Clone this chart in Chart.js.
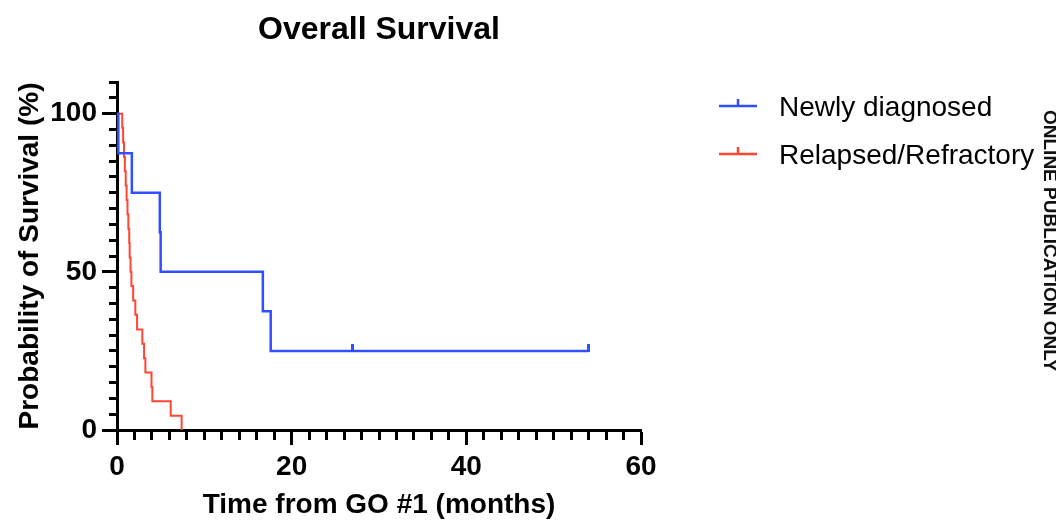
<!DOCTYPE html>
<html>
<head>
<meta charset="utf-8">
<script src="https://cdn.jsdelivr.net/npm/chart.js@4.4.1/dist/chart.umd.min.js"></script>
<style>
  html, body { margin: 0; padding: 0; background: #fff; }
</style>
</head>
<body>
<canvas id="km" width="1056" height="527"></canvas>
<script>
// Kaplan-Meier steps (time in months, survival in %)
var newlyTimes = [0, 0.15, 1.7, 4.9, 5.0, 16.7, 17.6, 54.0];
var newlySurv  = [100, 87.5, 75, 62.5, 50, 37.5, 25, 25];
var newlyCensorTimes = [27.0, 54.0];
var newlyCensorSurv  = [25, 25];

var relapsedTimes = [0, 0.6, 0.7, 0.8, 0.9, 1.0, 1.1, 1.2, 1.3, 1.4, 1.45, 1.55, 1.65, 1.85,
                     2.1, 2.3, 2.9, 3.1, 3.25, 3.95, 4.05, 6.15, 7.4];
var relapsedSurv  = [100, 95.5, 90.9, 86.4, 81.8, 77.3, 72.7, 68.2, 63.6, 59.1, 54.5, 50, 45.5, 40.9,
                     36.4, 31.8, 27.3, 22.7, 18.2, 13.6, 9.1, 4.5, 0];

var seriesLabels = ['Newly diagnosed', 'Relapsed/Refractory'];
var xTickLabels = [0, 20, 40, 60];
var yTickLabels = [0, 50, 100];

var blue = '#3050ff';
var red = '#ff4632';
var font = "'Liberation Sans', Arial, Helvetica, sans-serif";

function pts(xs, ys) {
  return xs.map(function(x, i) { return {x: x, y: ys[i]}; });
}

// small upward tick used for censored observations
function censorMark(color) {
  var c = document.createElement('canvas');
  c.width = 3; c.height = 16;
  var g = c.getContext('2d');
  g.fillStyle = color;
  g.fillRect(0, 1, 3, 8);
  return c;
}

var kmLegend = {
  id: 'kmLegend',
  afterDraw: function(chart) {
    var ctx = chart.ctx;
    var rows = [106, 154];
    ctx.save();
    [0, 1].forEach(function(i) {
      var ds = chart.data.datasets[i];
      var y = rows[i];
      ctx.strokeStyle = ds.borderColor;
      ctx.lineWidth = 2.5;
      ctx.beginPath();
      ctx.moveTo(719, y); ctx.lineTo(757, y);
      ctx.moveTo(738, y); ctx.lineTo(738, y - 7);
      ctx.stroke();
      ctx.fillStyle = '#000';
      ctx.font = '28px ' + font;
      ctx.textBaseline = 'alphabetic';
      ctx.fillText(ds.label, 779, y + 10);
    });
    // cropped side banner
    ctx.translate(1044, 110);
    ctx.rotate(Math.PI / 2);
    ctx.font = 'bold 19px ' + font;
    ctx.fillStyle = '#111';
    ctx.fillText('ONLINE PUBLICATION ONLY', 0, 0);
    ctx.restore();
  }
};

new Chart(document.getElementById('km'), {
  type: 'line',
  data: {
    datasets: [
      {label: seriesLabels[0], data: pts(newlyTimes, newlySurv), borderColor: blue, borderWidth: 2.5,
       stepped: 'before', pointRadius: 0, fill: false},
      {label: seriesLabels[1], data: pts(relapsedTimes, relapsedSurv), borderColor: red, borderWidth: 2,
       stepped: 'before', pointRadius: 0, fill: false},
      {label: 'censored', data: pts(newlyCensorTimes, newlyCensorSurv), showLine: false,
       pointStyle: censorMark(blue), pointRadius: 4, borderColor: blue, backgroundColor: blue}
    ]
  },
  options: {
    responsive: false,
    animation: false,
    devicePixelRatio: 1,
    layout: {padding: {left: 0, right: 415, top: 0, bottom: 0}},
    plugins: {
      legend: {display: false},
      tooltip: {enabled: false},
      title: {
        display: true, text: 'Overall Survival', fullSize: false,
        color: '#000', font: {family: font, size: 32, weight: 'bold'},
        padding: {top: 11, bottom: 32.6}
      }
    },
    scales: {
      x: {
        type: 'linear', min: 0, max: 60,
        afterFit: function(s) { s.height = 97; },
        border: {color: '#000', width: 3},
        grid: {
          drawOnChartArea: false, drawTicks: true, tickLength: 15, tickWidth: 3, tickColor: '#000',
          tickBorderDash: function(c) { return xTickLabels.indexOf(c.tick.value) >= 0 ? [] : [8, 30]; }
        },
        ticks: {
          stepSize: 2, autoSkip: false, maxRotation: 0, padding: 5, color: '#000',
          font: {family: font, size: 28, weight: 'bold'},
          callback: function(v) { return xTickLabels.indexOf(v) >= 0 ? v : ''; }
        },
        title: {
          display: true, text: 'Time from GO #1 (months)', color: '#000',
          font: {family: font, size: 28, weight: 'bold'}, padding: {top: 0, bottom: 5}
        }
      },
      y: {
        min: 0, max: 110,
        afterFit: function(s) { s.width = 117; },
        border: {color: '#000', width: 3},
        grid: {
          drawOnChartArea: false, drawTicks: true, tickLength: 15, tickWidth: 3, tickColor: '#000',
          // left-axis ticks are stroked from the outer end, so skip the first 7px
          tickBorderDash: function(c) { return yTickLabels.indexOf(c.tick.value) >= 0 ? [] : [0, 7, 8, 30]; }
        },
        ticks: {
          stepSize: 5, autoSkip: false, padding: 5, color: '#000',
          font: {family: font, size: 28, weight: 'bold'},
          callback: function(v) { return yTickLabels.indexOf(v) >= 0 ? v : ''; }
        },
        title: {
          display: true, text: 'Probability of Survival (%)', color: '#000',
          font: {family: font, size: 28, weight: 'bold'}, padding: {top: 13, bottom: 0}
        }
      }
    }
  },
  plugins: [kmLegend]
});
</script>
</body>
</html>
